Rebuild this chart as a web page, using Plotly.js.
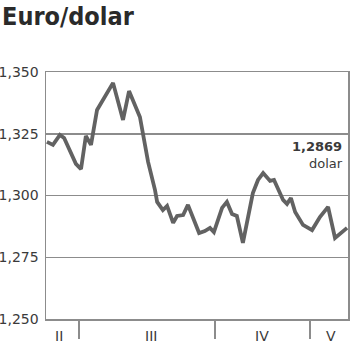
<!DOCTYPE html>
<html>
<head>
<meta charset="utf-8">
<script src="https://cdn.plot.ly/plotly-3.0.1.min.js"></script>
<style>html,body{margin:0;padding:0;background:#fff;}#chart{width:350px;height:351px;}</style>
</head>
<body>
<div id="chart"></div>
<script>
// Trading days (approximate position along the time axis) and Euro/dollar rate
const days = [0.3, 2.3, 4.6, 6.0, 9.9, 11.6, 13.2, 14.9, 16.9, 18.9, 22.2, 25.5, 27.5, 31.1, 32.8, 33.8,
  36.1, 36.8, 38.7, 40.1, 42.1, 43.4, 45.4, 47.0, 50.7, 52.6, 54.3, 55.6, 58.3, 59.9, 61.6, 63.2, 65.2,
  67.2, 68.5, 70.2, 71.9, 74.2, 75.5, 78.5, 79.8, 81.1, 82.5, 85.1, 88.1, 90.7, 93.4, 95.7, 99.0, 99.7];
const rate = [1.3217, 1.3205, 1.3245, 1.3233, 1.3128, 1.3107, 1.3241, 1.3205, 1.3346, 1.3387, 1.3456,
  1.3306, 1.3423, 1.3318, 1.3205, 1.3136, 1.3022, 1.2974, 1.2941, 1.2958, 1.2889, 1.2917, 1.2921,
  1.2962, 1.2848, 1.2856, 1.2869, 1.2852, 1.2950, 1.2974, 1.2925, 1.2917, 1.2808, 1.2929, 1.3010,
  1.3063, 1.3091, 1.3059, 1.3063, 1.2982, 1.2966, 1.2990, 1.2933, 1.2881, 1.2860, 1.2913, 1.2954,
  1.2828, 1.2862, 1.2869];
const monthBreaks = [10.9, 56.0, 87.4];
const monthLabels = ["II", "III", "IV", "V"];
const monthLabelPos = [4.3, 34.8, 71.5, 94.4];
const yTicks = [1.250, 1.275, 1.300, 1.325, 1.350];
const lastValueText = "1,2869";
const unitText = "dolar";

const gridCol = "#8c8c8c";
const textCol = "#3a3a3a";

const annotations = monthLabels.map((t, i) => ({
  text: t, x: monthLabelPos[i], xref: "x", y: -0.07, yref: "paper",
  xanchor: "center", yanchor: "middle", showarrow: false,
  font: {family: "DejaVu Sans", size: 14, color: textCol}
}));
annotations.push({
  text: "<b>" + lastValueText + "</b><br>" + unitText,
  x: 0.99, xref: "paper", y: 1.3164, yref: "y",
  xanchor: "right", yanchor: "middle", align: "right", showarrow: false,
  font: {family: "DejaVu Sans", size: 13, color: textCol}
});

const data = [{
  x: days, y: rate, type: "scatter", mode: "lines",
  line: {color: "#626262", width: 3.8, shape: "linear"},
  hoverinfo: "skip"
}];

const layout = {
  width: 350, height: 351,
  margin: {l: 46, r: 2, t: 72, b: 32},
  paper_bgcolor: "#fff", plot_bgcolor: "#fff",
  separators: ",.",
  showlegend: false,
  title: {
    text: "<b>Euro/dolar</b>",
    x: 0.006, xref: "container", xanchor: "left",
    y: 0.98, yref: "container", yanchor: "top",
    font: {family: "DejaVu Sans Condensed, DejaVu Sans", size: 25, color: "#2a2a2a"}
  },
  xaxis: {
    range: [0, 100], showgrid: false, zeroline: false,
    showline: true, linecolor: gridCol, linewidth: 1.5, mirror: true,
    tickvals: monthBreaks, ticks: "outside", ticklen: 18, tickcolor: gridCol, tickwidth: 1.5,
    showticklabels: false, fixedrange: true
  },
  yaxis: {
    range: [1.25, 1.35], tickvals: yTicks, tickformat: ".3f",
    showgrid: true, gridcolor: gridCol, gridwidth: 1.5, zeroline: false,
    showline: true, linecolor: gridCol, linewidth: 1.5, mirror: true,
    ticks: "", ticklabelstandoff: 3,
    tickfont: {family: "DejaVu Sans", size: 14, color: textCol}, fixedrange: true
  },
  annotations: annotations
};

Plotly.newPlot("chart", data, layout, {displayModeBar: false, staticPlot: true});
</script>
</body>
</html>
